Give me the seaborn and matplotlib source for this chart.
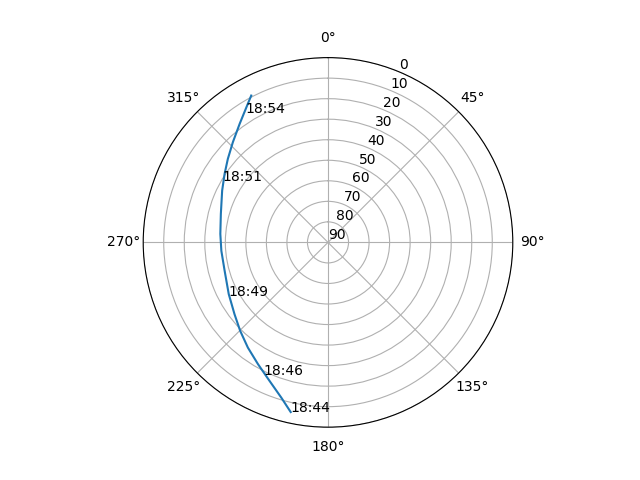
import numpy as np
import pandas as pd
import matplotlib
matplotlib.use("Agg")
import matplotlib.pyplot as plt
import seaborn as sns

# track of the pass, azimuth (deg) and elevation (deg)
azimuth = [192.4, 196.7, 202.9, 209.9, 217.3, 224.8, 232.5, 242.5, 254.7, 265.5,
           274.5, 284.9, 296.1, 303.5, 309.8, 316.5, 323.3, 328.9, 332.4]
elevation = [5.4, 11.0, 16.8, 21.6, 25.6, 29.3, 32.6, 35.5, 37.8, 37.9,
             37.4, 36.0, 32.6, 29.6, 26.5, 22.7, 18.0, 13.1, 9.3]

# time labels along the track
label_times = ['18:44', '18:46', '18:49', '18:51', '18:54']
label_az = [192.4, 205.9, 241.8, 300.4, 327.6]
label_el = [5.4, 18.2, 35.0, 30.5, 15.1]

track = pd.DataFrame({'theta': np.radians(azimuth), 'elev': elevation})

fig = plt.figure(figsize=(6.4, 4.8), dpi=100)
ax = fig.add_subplot(111, projection='polar')
ax.set_theta_zero_location('N')
ax.set_theta_direction(-1)

sns.lineplot(data=track, x='theta', y='elev', sort=False, ax=ax)

for t, a, e in zip(label_times, label_az, label_el):
    ax.text(np.radians(a), e, t)

ax.set_ylim(90, 0)
ax.set_yticks(range(0, 91, 10))
ax.set_xlabel('')
ax.set_ylabel('')

fig.savefig('out.png', dpi=100)
